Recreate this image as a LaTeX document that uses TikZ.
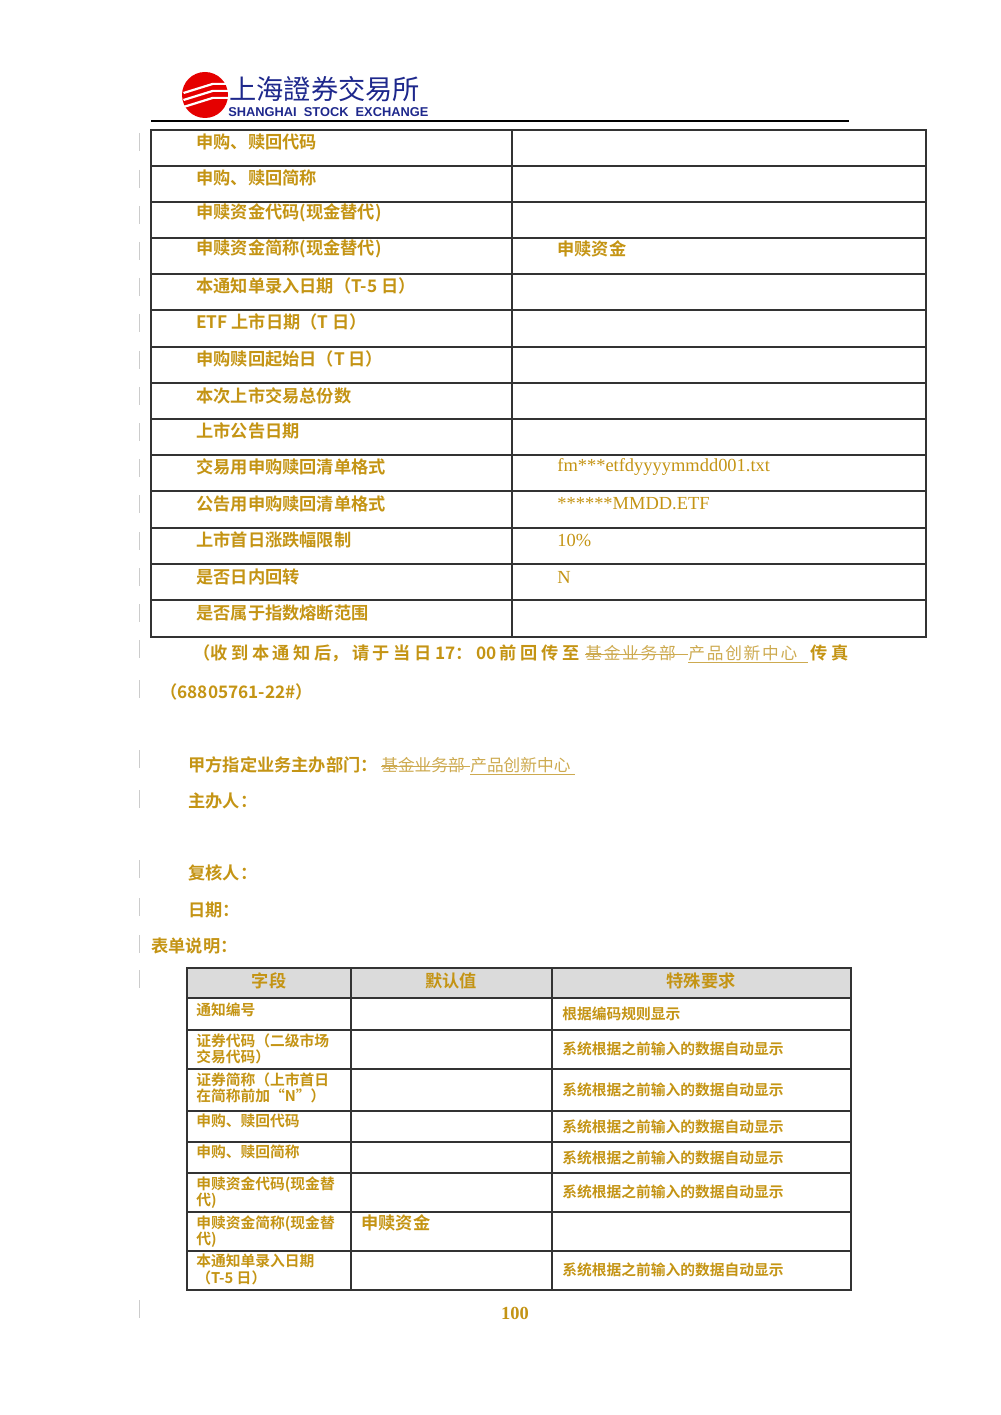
\documentclass[tikz,border=0pt]{standalone}
\usepackage{fontspec}
\newfontfamily\cjk{Noto Sans CJK SC}[BoldFont={Noto Sans CJK SC Bold}]
\newfontfamily\cjktc{Noto Sans CJK TC}
\newfontfamily\lsans{Liberation Sans}
\newfontfamily\lserif{Liberation Serif}
\definecolor{gold}{RGB}{196,148,20}
\definecolor{lgold}{RGB}{205,170,80}
\definecolor{navy}{RGB}{30,40,140}
\begin{document}
\begin{tikzpicture}[x=0.02cm,y=-0.02cm,
  t/.style={anchor=west,inner sep=0,text=gold,font=\cjk\bfseries\fontsize{9.8}{11}\selectfont},
  lt/.style={anchor=west,inner sep=0,text=lgold,font=\cjk\fontsize{9.5}{11}\selectfont},
  lat/.style={anchor=west,inner sep=0,text=gold,font=\lserif\fontsize{10.5}{12}\selectfont},
  s/.style={anchor=north west,inner sep=0,text=gold,align=left,font=\cjk\bfseries\fontsize{8.4}{9.4}\selectfont},
  sm/.style={anchor=west,inner sep=0,text=gold,font=\cjk\bfseries\fontsize{8.4}{9.4}\selectfont},
  hd/.style={inner sep=0,text=gold,font=\cjk\bfseries\fontsize{9.8}{11}\selectfont},
  grid/.style={draw=black!80,line width=0.6pt},
  barmark/.style={draw=black!20,line width=0.5pt},
  gl/.style={draw=lgold,line width=0.5pt}]
\useasboundingbox (0,0) rectangle (1000,1415);
% logo
\fill[red!90!black] (205,95) circle (23);
\foreach \yy in {92,99,106}{\fill[white] (183,\yy) -- (212,\yy-9) -- (230,\yy-9) -- (230,\yy-7) -- (213,\yy-7) -- (184,\yy+2) -- cycle;}
\node[anchor=west,inner sep=0,text=navy,font=\cjktc\fontsize{15.5}{17}\selectfont] (logo) at (229,89) {上海證券交易所};
\node[anchor=west,inner sep=0,text=navy,font=\lsans\bfseries\fontsize{7.3}{8}\selectfont] (logo2) at (228,112) {SHANGHAI\ \ STOCK\ \ EXCHANGE};
\draw[line width=1pt] (151,121) -- (849,121);
% margin marks
\foreach \yy in {133,170,206,242,278,314,351,387,423,459,495,532,568,604,640,680,750,790,860,898,935,970,1300}{\draw[barmark] (139,\yy) -- (139,\yy+18);}
% top table
\draw[grid] (151,130) rectangle (926,637);
\draw[grid] (512,130) -- (512,637);
\foreach \yy in {166,202,238,274,310,347,383,419,455,491,528,564,600}{\draw[grid] (151,\yy) -- (926,\yy);}
\node[t] (r1) at (196,142) {申购、赎回代码};
\node[t] (r2) at (196,178) {申购、赎回简称};
\node[t] (r3) at (196,213) {申赎资金代码(现金替代)};
\node[t] (r4) at (196,249) {申赎资金简称(现金替代)};
\node[t] (r5) at (196,286) {本通知单录入日期（T-5 日）};
\node[t] (r6) at (196,322) {ETF 上市日期（T 日）};
\node[t] (r7) at (196,359) {申购赎回起始日（T 日）};
\node[t] (r8) at (196,396) {本次上市交易总份数};
\node[t] (r9) at (196,431) {上市公告日期};
\node[t] (r10) at (196,467) {交易用申购赎回清单格式};
\node[t] (r11) at (196,504) {公告用申购赎回清单格式};
\node[t] (r12) at (196,540) {上市首日涨跌幅限制};
\node[t] (r13) at (196,577) {是否日内回转};
\node[t] (r14) at (196,613) {是否属于指数熔断范围};
\node[t] (v4) at (557,249) {申赎资金};
\node[lat] (v10) at (557,467) {fm***etfdyyyymmdd001.txt};
\node[lat] (v11) at (557,504) {******MMDD.ETF};
\node[lat] (v12) at (557,540) {10\%};
\node[lat] (v13) at (557,577) {N};
% notes
\node[t] (n1) at (193,653) {（收\hspace{2pt}到\hspace{2pt}本\hspace{2pt}通\hspace{2pt}知\hspace{2pt}后，\hspace{2pt}请\hspace{2pt}于\hspace{2pt}当\hspace{2pt}日\hspace{2pt}17：\hspace{2pt}00\hspace{2pt}前\hspace{2pt}回\hspace{2pt}传\hspace{2pt}至};
\node[lt] (n1b) at (585,653) {基\hspace{1pt}金\hspace{1pt}业\hspace{1pt}务\hspace{1pt}部};
\draw[gl] (585,654) -- (688,654);
\node[lt] (n1c) at (688,653) {产\hspace{1pt}品\hspace{1pt}创\hspace{1pt}新\hspace{1pt}中\hspace{1pt}心};
\draw[gl] (688,662) -- (808,662);
\node[t] (n1d) at (810,653) {传\hspace{2pt}真};
\node[t] (n2) at (160,692) {（68805761-22\#）};
\node[t] (p1) at (188,765) {甲方指定业务主办部门：};
\node[lt] (p1b) at (381,765) {基金业务部};
\draw[gl] (381,766) -- (470,766);
\node[lt] (p1c) at (470,765) {产品创新中心};
\draw[gl] (470,774) -- (575,774);
\node[t] (p2) at (188,801) {主办人：};
\node[t] (p3) at (188,873) {复核人：};
\node[t] (p4) at (188,910) {日期：};
\node[t] (p5) at (151,946) {表单说明：};
% second table
\fill[black!14] (187,968) rectangle (851,998);
\draw[grid] (187,968) rectangle (851,1290);
\draw[grid] (351,968) -- (351,1290);
\draw[grid] (552,968) -- (552,1290);
\foreach \yy in {998,1030,1069,1111,1142,1173,1212,1251}{\draw[grid] (187,\yy) -- (851,\yy);}
\node[hd] (h1) at (269,981) {字段};
\node[hd] (h2) at (451,981) {默认值};
\node[hd] (h3) at (701,981) {特殊要求};
\node[s] (c1) at (196,1002) {通知编号};
\node[s] (c2) at (196,1033) {证券代码（二级市场\\交易代码）};
\node[s] (c3) at (196,1072) {证券简称（上市首日\\在简称前加“N”）};
\node[s] (c4) at (196,1114) {申购、赎回代码};
\node[s] (c5) at (196,1145) {申购、赎回简称};
\node[s] (c6) at (196,1176) {申赎资金代码(现金替\\代)};
\node[s] (c7) at (196,1215) {申赎资金简称(现金替\\代)};
\node[s] (c8) at (196,1254) {本通知单录入日期\\（T-5 日）};
\node[t] (d7) at (361,1223) {申赎资金};
\node[sm] (e1) at (562,1014) {根据编码规则显示};
\node[sm] (e2) at (562,1049) {系统根据之前输入的数据自动显示};
\node[sm] (e3) at (562,1090) {系统根据之前输入的数据自动显示};
\node[sm] (e4) at (562,1127) {系统根据之前输入的数据自动显示};
\node[sm] (e5) at (562,1158) {系统根据之前输入的数据自动显示};
\node[sm] (e6) at (562,1192) {系统根据之前输入的数据自动显示};
\node[sm] (e8) at (562,1270) {系统根据之前输入的数据自动显示};
\node[inner sep=0,text=gold,font=\lserif\bfseries\fontsize{10.5}{12}\selectfont] (pg) at (515,1313) {100};
\end{tikzpicture}
\end{document}
